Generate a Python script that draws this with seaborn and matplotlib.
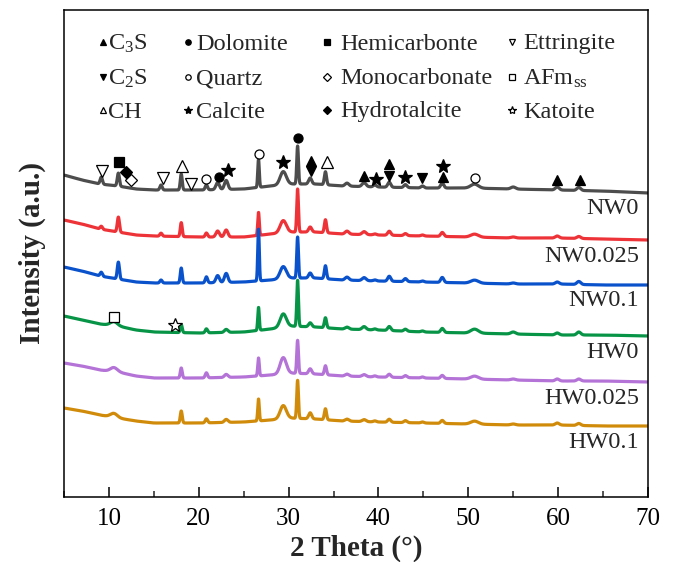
import numpy as np
import pandas as pd
import matplotlib
matplotlib.use("Agg")
import matplotlib.pyplot as plt
import seaborn as sns

# ---- data -------------------------------------------------------------
samples = ["NW0", "NW0.025", "NW0.1", "HW0", "HW0.025", "HW0.1"]
colors = ["#4d4d4d", "#ee3338", "#0a52cc", "#079447", "#b473d6", "#d18b0b"]
offsets = [304, 257, 212, 161, 115, 71]          # vertical stacking (a.u.)

# amorphous background, relative to the 70° level (a.u.)
bg_theta = [5, 7, 9, 11, 13, 15, 20, 25, 28, 30, 33, 36, 40, 45, 50, 55, 60, 65, 70]
bg_nw0 = [18, 13, 9, 7, 4, 3, 3, 4, 7, 9, 9, 7, 6, 5, 5, 4, 3, 2, 0]
bg_nw0025 = [20, 16, 11, 8, 5, 4, 3, 3, 6, 8, 8, 6, 5, 4, 3, 2, 2, 1, 0]
bg_nw01 = [18, 14, 9, 6, 3, 2, 2, 3, 5, 7, 7, 5, 4, 3, 2, 1, 1, 0, 0]
bg_hw0 = [20, 16, 12, 10, 6, 4, 3, 4, 7, 10, 9, 7, 6, 4, 3, 2, 1, 1, 0]
bg_hw0025 = [19, 16, 12, 10, 6, 4, 4, 5, 7, 9, 8, 6, 5, 4, 3, 2, 1, 1, 0]
bg_hw01 = [18, 15, 11, 8, 5, 3, 3, 4, 6, 8, 7, 5, 4, 3, 2, 1, 1, 0, 0]

# reflections: position (°2θ), FWHM (°) and net height per sample (a.u.)
peak_pos = [9.15, 10.55, 11.05, 15.8, 18.05, 20.85, 22.1, 23.05, 26.65, 29.4,
            31.0, 32.4, 34.1, 36.5, 38.4, 39.6, 41.2, 43.0, 44.9, 47.1,
            50.7, 55.0, 59.9, 62.3]
peak_fwhm = [0.3, 0.9, 0.28, 0.3, 0.25, 0.3, 0.45, 0.45, 0.2, 0.8,
             0.22, 0.4, 0.28, 0.5, 0.5, 0.4, 0.4, 0.4, 0.4, 0.4,
             1.0, 0.6, 0.5, 0.5]
h_nw0 = [7, 0, 13, 5, 16, 5, 7, 9, 28, 13, 38, 6, 13, 3, 4, 2, 5, 3, 2, 5, 4, 2, 3, 3]
h_nw0025 = [3, 0, 15, 3, 14, 4, 6, 7, 23, 12, 43, 5, 13, 3, 3, 1, 4, 2, 1, 4, 3, 1, 2, 2]
h_nw01 = [4, 0, 17, 3, 15, 6, 7, 9, 52, 12, 41, 5, 13, 3, 3, 1, 5, 3, 1, 5, 3, 1, 2, 3]
h_hw0 = [0, 4, 0, 0, 8, 4, 0, 3, 23, 13, 46, 4, 10, 2, 3, 1, 4, 2, 1, 4, 4, 2, 2, 3]
h_hw0025 = [0, 4, 0, 0, 10, 5, 0, 3, 18, 16, 33, 5, 9, 2, 2, 1, 3, 2, 1, 3, 3, 1, 2, 2]
h_hw01 = [0, 4, 0, 0, 12, 4, 0, 3, 22, 13, 38, 6, 11, 2, 2, 1, 3, 2, 1, 3, 3, 1, 2, 2]

backgrounds = [bg_nw0, bg_nw0025, bg_nw01, bg_hw0, bg_hw0025, bg_hw01]
heights = [h_nw0, h_nw0025, h_nw01, h_hw0, h_hw0025, h_hw01]

# phase identification: (2θ, phase, lift above the local pattern maximum)
phase_marks_nw0 = [
    (9.2, "ett", 6), (11.1, "hc", 11), (11.9, "ht", 15), (12.5, "mc", 8),
    (16.0, "ett", 7), (18.1, "ch", 8), (19.1, "ett", 6), (20.8, "qz", 6),
    (22.2, "dol", 6), (23.2, "cc", 10), (26.7, "qz", 6), (29.4, "cc", 10),
    (31.05, "dol", 8), (32.45, "c3s", 17), (32.45, "c2s", 7), (34.3, "ch", 10),
    (38.4, "c3s", 7), (39.7, "cc", 6), (41.2, "c3s", 18), (41.2, "c2s", 6),
    (43.0, "cc", 8), (44.9, "c2s", 8), (47.2, "cc", 17), (47.2, "c3s", 6),
    (50.7, "qz", 6), (59.9, "c3s", 7), (62.4, "c3s", 7),
]
phase_marks_hw0 = [(10.6, "afm", 5), (17.35, "kat", 7)]

legend_rows = [["c3s", "dol", "hc", "ett"],
               ["c2s", "qz", "mc", "afm"],
               ["ch", "cc", "ht", "kat"]]
phase_names = {
    "c3s": "C$_3$S", "dol": "Dolomite", "hc": "Hemicarbonte", "ett": "Ettringite",
    "c2s": "C$_2$S", "qz": "Quartz", "mc": "Monocarbonate", "afm": "AFm$_{ss}$",
    "ch": "CH", "cc": "Calcite", "ht": "Hydrotalcite", "kat": "Katoite",
}

# ---- marker styles per phase -----------------------------------------
phase_style = {
    "c3s": dict(marker="^", filled=True, size=7.5),
    "c2s": dict(marker="v", filled=True, size=7.5),
    "ch": dict(marker="^", filled=False, size=8),
    "dol": dict(marker="o", filled=True, size=6.5),
    "qz": dict(marker="o", filled=False, size=6.5),
    "cc": dict(marker="*", filled=True, size=10),
    "hc": dict(marker="s", filled=True, size=6.5),
    "mc": dict(marker="D", filled=False, size=6.5),
    "ht": dict(marker="D", filled=True, size=6.5),
    "ett": dict(marker="v", filled=False, size=8),
    "afm": dict(marker="s", filled=False, size=6.5),
    "kat": dict(marker="*", filled=False, size=10),
}

# ---- build patterns ---------------------------------------------------
theta = np.round(np.arange(5.0, 70.0001, 0.02), 3)
kernel = np.ones(25) / 25.0


def pattern(bg, hts, offset):
    base = np.interp(theta, bg_theta, bg)
    pad = np.pad(base, 12, mode="edge")
    base = np.convolve(pad, kernel, mode="valid")
    y = base + offset
    for p, w, h in zip(peak_pos, peak_fwhm, hts):
        if h:
            s = w / 2.3548
            y = y + h * np.exp(-0.5 * ((theta - p) / s) ** 2)
    return y


frames = []
curves = {}
for name, bg, hts, off in zip(samples, backgrounds, heights, offsets):
    y = pattern(bg, hts, off)
    curves[name] = y
    frames.append(pd.DataFrame({"theta": theta, "intensity": y, "sample": name}))
df = pd.concat(frames, ignore_index=True)

# ---- figure -----------------------------------------------------------
sns.set_theme(style="ticks")
plt.rcParams["font.family"] = ["Liberation Serif", "DejaVu Serif"]
plt.rcParams["mathtext.default"] = "regular"
plt.rcParams["axes.linewidth"] = 1.1

fig = plt.figure(figsize=(6.75, 5.62), dpi=100)
ax = fig.add_axes([64 / 675, 65 / 562, 584 / 675, 487 / 562])

sns.lineplot(data=df, x="theta", y="intensity", hue="sample",
             palette=dict(zip(samples, colors)), hue_order=samples,
             estimator=None, sort=False, linewidth=2.3, legend=False, ax=ax)

ax.set_xlim(5, 70)
ax.set_ylim(0, 487)
ax.set_xticks(range(10, 71, 10))
ax.set_xticks(range(5, 71, 5), minor=True)
ax.set_yticks([])
ax.tick_params(axis="x", which="major", direction="in", length=7, width=1.1,
               labelsize=18, pad=8, colors="black")
ax.tick_params(axis="x", which="minor", direction="in", length=4, width=1.1)
for sp in ax.spines.values():
    sp.set_visible(True)
    sp.set_color("black")
ax.set_xlabel("2 Theta (°)", fontsize=21, fontweight="bold", labelpad=3)
ax.set_ylabel("Intensity (a.u.)", fontsize=21, fontweight="bold", labelpad=13)

# sample names under the right end of each pattern
for name, off in zip(samples, offsets):
    ax.text(69.0, off - 16, name, ha="right", va="center", fontsize=17.5)


def draw_mark(x, y, phase, transform=None, scale=1.0):
    st = phase_style[phase]
    kw = dict(marker=st["marker"], markersize=st["size"] * scale, linestyle="none",
              markeredgecolor="black", markeredgewidth=0.9, clip_on=False)
    kw["markerfacecolor"] = "black" if st["filled"] else "white"
    if transform is not None:
        kw["transform"] = transform
    ax.plot([x], [y], **kw)


def local_top(curve, x0, half=0.25):
    sel = np.abs(theta - x0) <= half
    return curve[sel].max()


for x0, ph, lift in phase_marks_nw0:
    draw_mark(x0, local_top(curves["NW0"], x0) + lift, ph)
for x0, ph, lift in phase_marks_hw0:
    draw_mark(x0, local_top(curves["HW0"], x0) + lift, ph)

# phase key in the upper part of the panel (pixel layout -> axes fraction)
col_marker_px = [103, 188, 327, 512]
col_text_px = [108, 196, 340, 523]
row_px = [42, 77, 110]
for r, row in enumerate(legend_rows):
    for c, ph in enumerate(row):
        fx_m = (col_marker_px[c] - 64) / 584
        fx_t = (col_text_px[c] - 64) / 584
        fy = (497 - row_px[r]) / 487
        fy_base = (497 - row_px[r] - 7.5) / 487
        draw_mark(fx_m, fy, ph, transform=ax.transAxes, scale=0.6)
        ax.text(fx_t, fy_base, phase_names[ph], transform=ax.transAxes,
                ha="left", va="baseline", fontsize=17.5)

fig.savefig("out.png", dpi=100)
